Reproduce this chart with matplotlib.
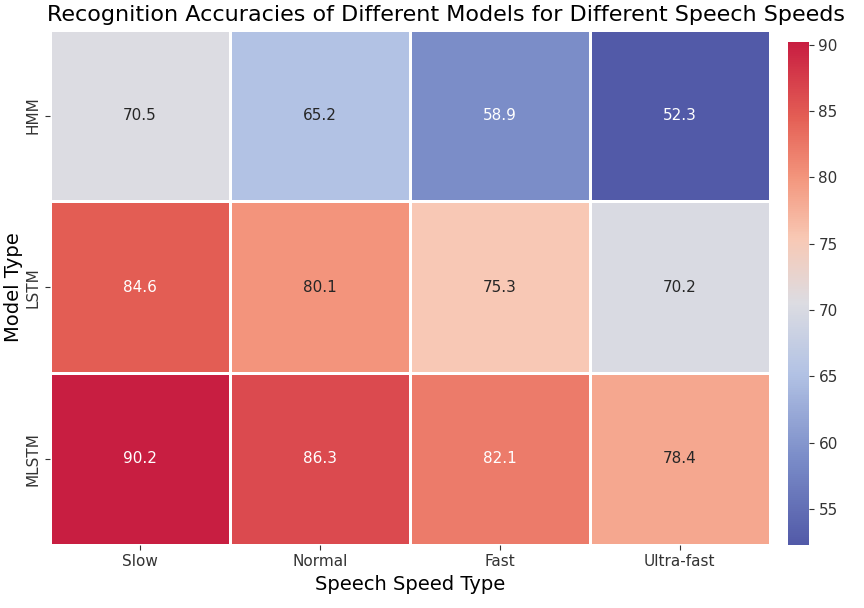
import numpy as np
import pandas as pd
import matplotlib
matplotlib.use("Agg")
import matplotlib.pyplot as plt
import seaborn as sns
from matplotlib.colors import LinearSegmentedColormap

models = ["HMM", "LSTM", "MLSTM"]
speeds = ["Slow", "Normal", "Fast", "Ultra-fast"]
hmm = [70.5, 65.2, 58.9, 52.3]
lstm = [84.6, 80.1, 75.3, 70.2]
mlstm = [90.2, 86.3, 82.1, 78.4]

df = pd.DataFrame([hmm, lstm, mlstm], index=models, columns=speeds)

# coolwarm-like, a bit muted to match the reference
nodes = [0.0, 0.17, 0.34, 0.48, 0.61, 0.73, 0.85, 1.0]
cols = ["#525aa8", "#7a8cc8", "#b2c2e4", "#dcdce2",
        "#f8c8b4", "#f3967d", "#e45f55", "#c81e41"]
cmap = LinearSegmentedColormap.from_list("muted_cw", list(zip(nodes, cols)))

fig = plt.figure(figsize=(8.64, 6.08), dpi=100)
ax = fig.add_axes([0.058, 0.104, 0.833, 0.847])
cax = fig.add_axes([0.912, 0.104, 0.024, 0.827])

sns.heatmap(df, annot=True, fmt=".1f", cmap=cmap, linewidths=0.8,
            linecolor="white", ax=ax, cbar_ax=cax,
            annot_kws={"fontsize": 11})

ax.set_title("Recognition Accuracies of Different Models for Different Speech Speeds",
             fontsize=16, x=0.55)
ax.set_xlabel("Speech Speed Type", fontsize=14)
ax.set_ylabel("Model Type", fontsize=14, labelpad=2)
ax.tick_params(axis="both", labelsize=11, colors="#333333")
cax.tick_params(labelsize=11, colors="#333333")

plt.savefig("out.png", dpi=100)
